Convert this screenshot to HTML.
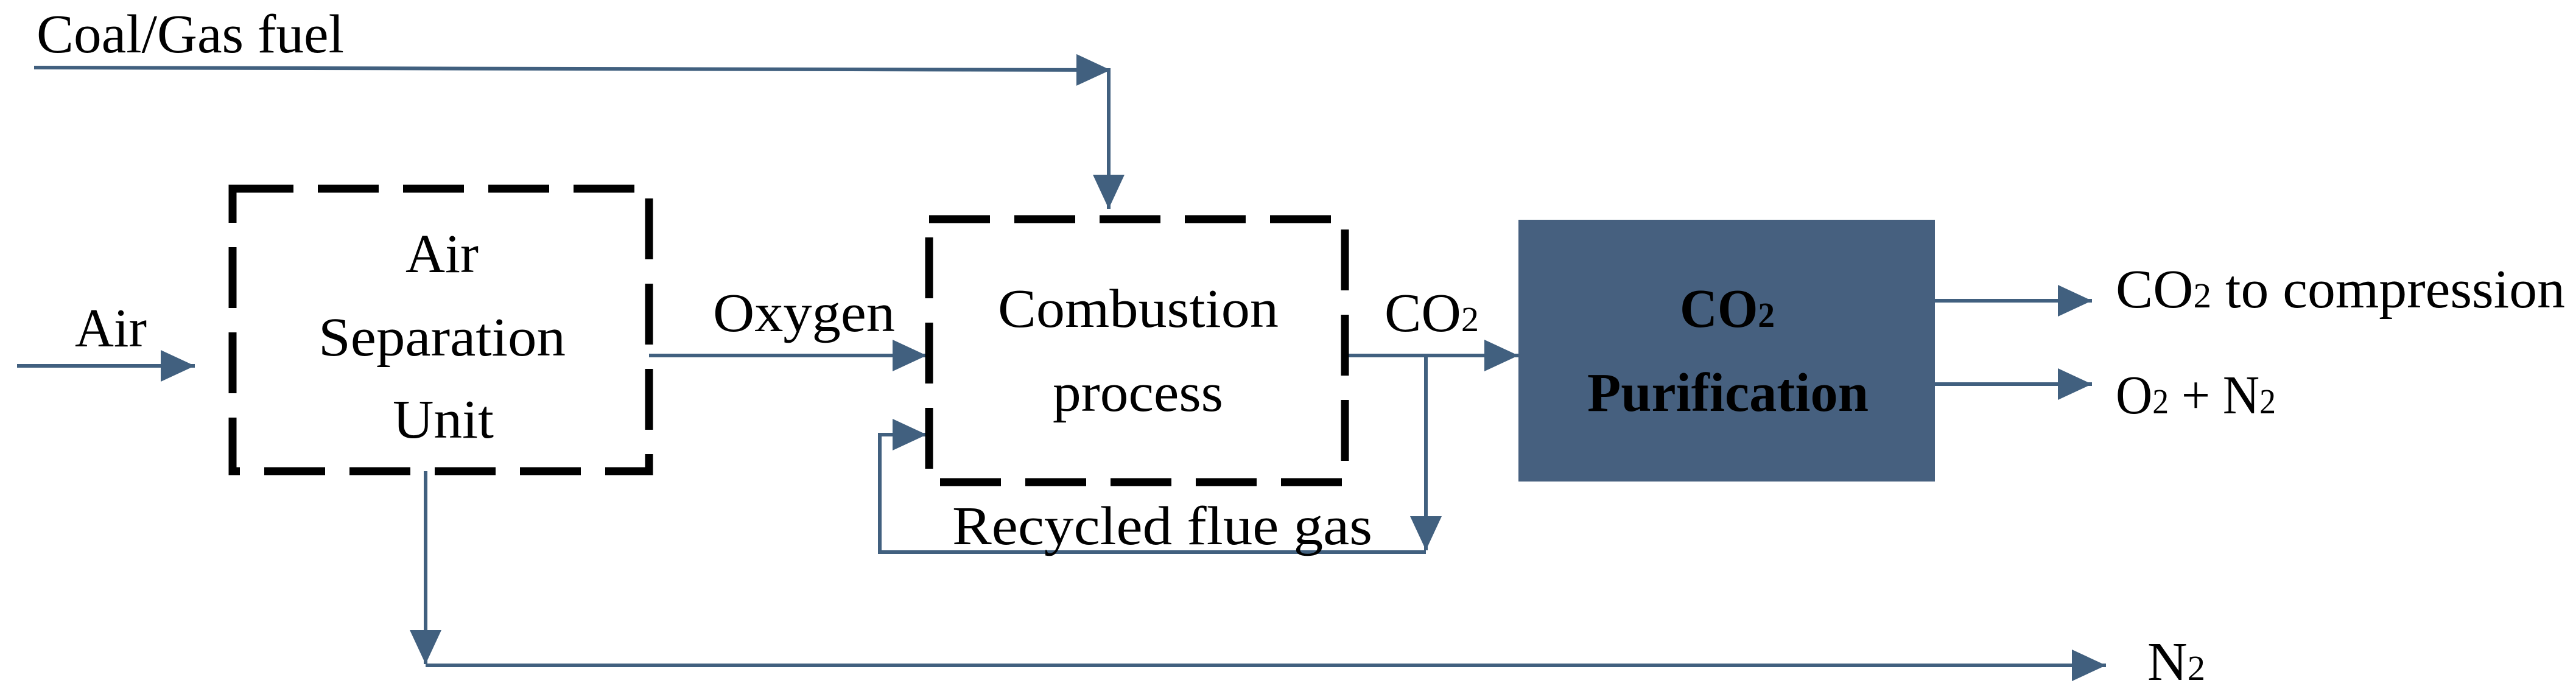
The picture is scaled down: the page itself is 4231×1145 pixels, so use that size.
<!DOCTYPE html>
<html><head><meta charset="utf-8"><style>html,body{margin:0;padding:0;background:#fff}svg{display:block}text{font-family:"Liberation Serif",serif;font-size:90px}</style></head>
<body>
<svg width="4231" height="1145" viewBox="0 0 4231 1145" xmlns="http://www.w3.org/2000/svg">
<defs>
<marker id="a" markerUnits="userSpaceOnUse" markerWidth="56" markerHeight="52" refX="56" refY="26" orient="auto">
<path d="M0,0 L56,26 L0,52 Z" fill="#41607f"/>
</marker>
</defs>
<g fill="none" stroke="#41607f" stroke-width="6">
<polyline points="56,111 1824,115" marker-end="url(#a)"/>
<polyline points="1821,115 1821,343" marker-end="url(#a)"/>
<polyline points="28,601 320,601" marker-end="url(#a)"/>
<polyline points="1066,584 1522,584" marker-end="url(#a)"/>
<polyline points="2342,907 1445,907 1445,714 1522,714" marker-end="url(#a)"/>
<polyline points="2209,584 2494,584" marker-end="url(#a)"/>
<polyline points="2342,584 2342,904" marker-end="url(#a)"/>
<polyline points="699,774 699,1091" marker-end="url(#a)"/>
<polyline points="699,1093 3459,1093" marker-end="url(#a)"/>
<polyline points="3178,494 3436,494" marker-end="url(#a)"/>
<polyline points="3178,631 3436,631" marker-end="url(#a)"/>
</g>
<g fill="none" stroke="#000" stroke-width="13" stroke-dasharray="100 40">
<rect x="382" y="310" width="684" height="464"/>
<rect x="1526" y="360" width="683" height="432"/>
</g>
<rect x="2494" y="361" width="684" height="430" fill="#46607f"/>
<g fill="#000">
<text x="60" y="86" textLength="505" lengthAdjust="spacingAndGlyphs">Coal/Gas fuel</text>
<text x="123" y="569" textLength="118" lengthAdjust="spacingAndGlyphs">Air</text>
<text x="666" y="447" textLength="120" lengthAdjust="spacingAndGlyphs">Air</text>
<text x="523" y="584" textLength="406" lengthAdjust="spacingAndGlyphs">Separation</text>
<text x="645" y="719" textLength="166" lengthAdjust="spacingAndGlyphs">Unit</text>
<text x="1171" y="544" textLength="299" lengthAdjust="spacingAndGlyphs">Oxygen</text>
<text x="1639" y="537" textLength="461" lengthAdjust="spacingAndGlyphs">Combustion</text>
<text x="1729" y="675" textLength="280" lengthAdjust="spacingAndGlyphs">process</text>
<text x="1564" y="894" textLength="690" lengthAdjust="spacingAndGlyphs">Recycled flue gas</text>
<text x="2274" y="544" textLength="155" lengthAdjust="spacingAndGlyphs">CO<tspan style="font-size:58px">2</tspan></text>
<text x="2759" y="537" font-weight="bold" textLength="156" lengthAdjust="spacingAndGlyphs">CO<tspan style="font-size:58px">2</tspan></text>
<text x="2607" y="675" font-weight="bold" textLength="462" lengthAdjust="spacingAndGlyphs">Purification</text>
<text x="3475" y="505" textLength="738" lengthAdjust="spacingAndGlyphs">CO<tspan style="font-size:58px">2</tspan> to compression</text>
<text x="3475" y="679" textLength="263" lengthAdjust="spacingAndGlyphs">O<tspan style="font-size:58px">2</tspan> + N<tspan style="font-size:58px">2</tspan></text>
<text x="3527" y="1117" textLength="95" lengthAdjust="spacingAndGlyphs">N<tspan style="font-size:58px">2</tspan></text>
</g>
</svg>
</body></html>
